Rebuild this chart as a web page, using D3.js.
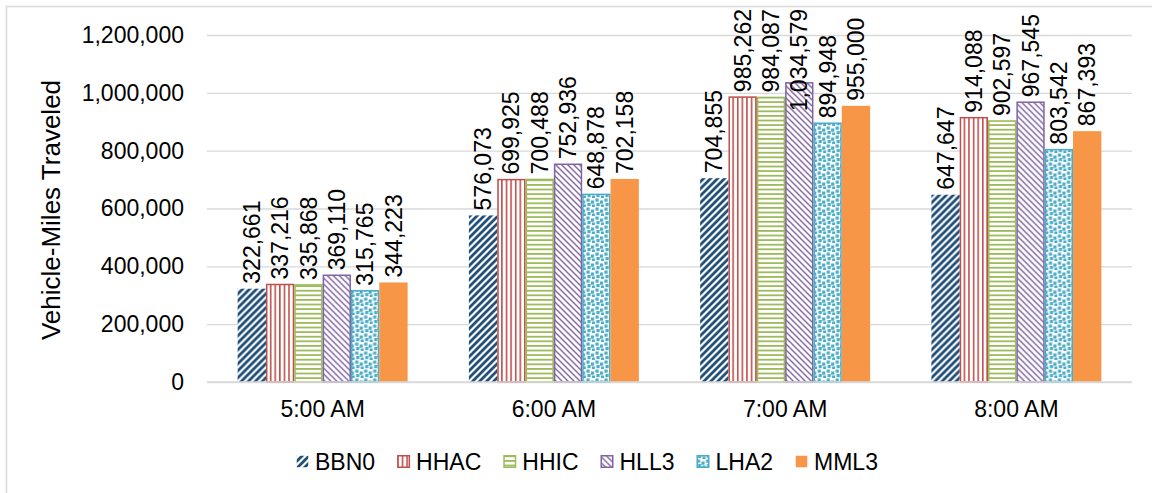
<!DOCTYPE html>
<html>
<head>
<meta charset="utf-8">
<script src="https://cdn.jsdelivr.net/npm/d3@7"></script>
<style>
  body { margin: 0; background: #fff; }
  text { font-family: "Liberation Sans", Arial, sans-serif; fill: #000; }
</style>
</head>
<body>
<svg id="chart" width="1152" height="493"></svg>
<script>
// categories, series and values
const times = ["5:00 AM", "6:00 AM", "7:00 AM", "8:00 AM"];
const series = ["BBN0", "HHAC", "HHIC", "HLL3", "LHA2", "MML3"];
const BBN0 = [322661, 576073, 704855, 647647];
const HHAC = [337216, 699925, 985262, 914088];
const HHIC = [335868, 700488, 984087, 902597];
const HLL3 = [369110, 752936, 1034579, 967545];
const LHA2 = [315765, 648878, 894948, 803542];
const MML3 = [344223, 702158, 955000, 867393];
const yTicks = [0, 200000, 400000, 600000, 800000, 1000000, 1200000];

const values = { BBN0, HHAC, HHIC, HLL3, LHA2, MML3 };
const colors = { BBN0: "#1f4e79", HHAC: "#c0504d", HHIC: "#9bbb59", HLL3: "#8064a2", LHA2: "#4bacc6", MML3: "#f79646" };

const svg = d3.select("#chart");
const fmt = d3.format(",");
const FS = 23;

// outer chart border (only top/left fall inside the picture)
svg.append("rect").attr("x", 6.5).attr("y", 6.5).attr("width", 1300).attr("height", 700)
  .attr("fill", "none").attr("stroke", "#d9d9d9").attr("stroke-width", 1.5);

// fill patterns
const defs = svg.append("defs");
function pat(id, w, h) {
  const p = defs.append("pattern").attr("id", id).attr("patternUnits", "userSpaceOnUse")
    .attr("width", w).attr("height", h);
  p.append("rect").attr("width", w).attr("height", h).attr("fill", "#fff");
  return p;
}
pat("p-BBN0", 7, 7).append("path")
  .attr("d", "M-2,2 L2,-2 M0,7 L7,0 M5,9 L9,5")
  .attr("stroke", colors.BBN0).attr("stroke-width", 2.8);
pat("p-HHAC", 4.6, 4).append("rect").attr("x", 0).attr("width", 1.6).attr("height", 4).attr("fill", colors.HHAC);
pat("p-HHIC", 4, 4.6).append("rect").attr("y", 0).attr("width", 4).attr("height", 1.8).attr("fill", colors.HHIC);
pat("p-HLL3", 6, 6).append("path")
  .attr("d", "M-1,-1 L7,7 M-1,5 L1,7 M5,-1 L7,1")
  .attr("stroke", colors.HLL3).attr("stroke-width", 1.4);
const pl = pat("p-LHA2", 9, 9);
[[0.5, 0.5], [5, 2.5], [1.5, 5], [6, 6.5]].forEach(([x, y]) =>
  pl.append("rect").attr("x", x).attr("y", y).attr("width", 3.2).attr("height", 3.2).attr("fill", colors.LHA2));

const fillOf = s => s === "MML3" ? colors.MML3 : `url(#p-${s})`;
const strokeOf = s => (s === "BBN0" || s === "MML3") ? "none" : colors[s];

// scales
const x0 = d3.scaleBand().domain(times).range([207, 1132]).paddingInner(0.265).paddingOuter(0.1325);
const x1 = d3.scaleBand().domain(series).range([0, x0.bandwidth()]);
const y = d3.scaleLinear().domain([0, 1200000]).range([382, 35]);

// gridlines + y tick labels
const yAxis = svg.append("g").attr("transform", "translate(207,0)")
  .call(d3.axisLeft(y).tickValues(yTicks).tickFormat(fmt).tickSize(-925).tickPadding(23));
yAxis.select(".domain").remove();
yAxis.selectAll(".tick line").attr("stroke", "#d9d9d9").attr("stroke-width", 1.3);
yAxis.selectAll(".tick text").attr("font-size", FS).attr("font-family", "Liberation Sans, Arial, sans-serif").attr("fill", "#000");

// bars
const groups = svg.append("g").selectAll("g").data(times).join("g")
  .attr("transform", d => `translate(${x0(d)},0)`);
groups.selectAll("rect").data((t, i) => series.map(s => ({ s, v: values[s][i] }))).join("rect")
  .attr("x", d => x1(d.s) + (strokeOf(d.s) === "none" ? 0 : 0.75))
  .attr("width", d => x1.bandwidth() - (strokeOf(d.s) === "none" ? 0 : 1.5))
  .attr("y", d => y(d.v))
  .attr("height", d => y(0) - y(d.v))
  .attr("fill", d => fillOf(d.s))
  .attr("stroke", d => strokeOf(d.s)).attr("stroke-width", 1.5);

// data labels (pushed down when they would run past the top of the chart)
groups.selectAll("text.lbl").data((t, i) => series.map(s => ({ s, v: values[s][i] }))).join("text")
  .attr("class", "lbl")
  .attr("dy", "0.35em")
  .attr("font-size", FS)
  .text(d => fmt(d.v))
  .attr("transform", function (d) {
    const len = this.getComputedTextLength();
    const y0 = Math.max(y(d.v) - 5, 9 + len);
    return `translate(${x1(d.s) + x1.bandwidth() / 2},${y0}) rotate(-90)`;
  });

// baseline
svg.append("line").attr("x1", 207).attr("x2", 1132).attr("y1", 382).attr("y2", 382)
  .attr("stroke", "#d9d9d9").attr("stroke-width", 1.5);

// category labels
svg.append("g").selectAll("text").data(times).join("text")
  .attr("x", d => x0(d) + x0.bandwidth() / 2).attr("y", 417)
  .attr("text-anchor", "middle").attr("font-size", FS).text(d => d);

// y axis title
svg.append("text").attr("transform", "translate(60,210) rotate(-90)")
  .attr("text-anchor", "middle").attr("font-size", 26).text("Vehicle-Miles Traveled");

// legend
const legend = svg.append("g");
let lx = 296;
series.forEach(s => {
  const g = legend.append("g").attr("transform", `translate(${lx},0)`);
  g.append("rect").attr("x", 0.75).attr("y", 455.75).attr("width", 11.5).attr("height", 11.5)
    .attr("fill", fillOf(s)).attr("stroke", strokeOf(s)).attr("stroke-width", 1.5);
  const t = g.append("text").attr("x", 19).attr("y", 470).attr("font-size", FS).text(s);
  lx += 19 + t.node().getComputedTextLength() + 22;
});
</script>
</body>
</html>
